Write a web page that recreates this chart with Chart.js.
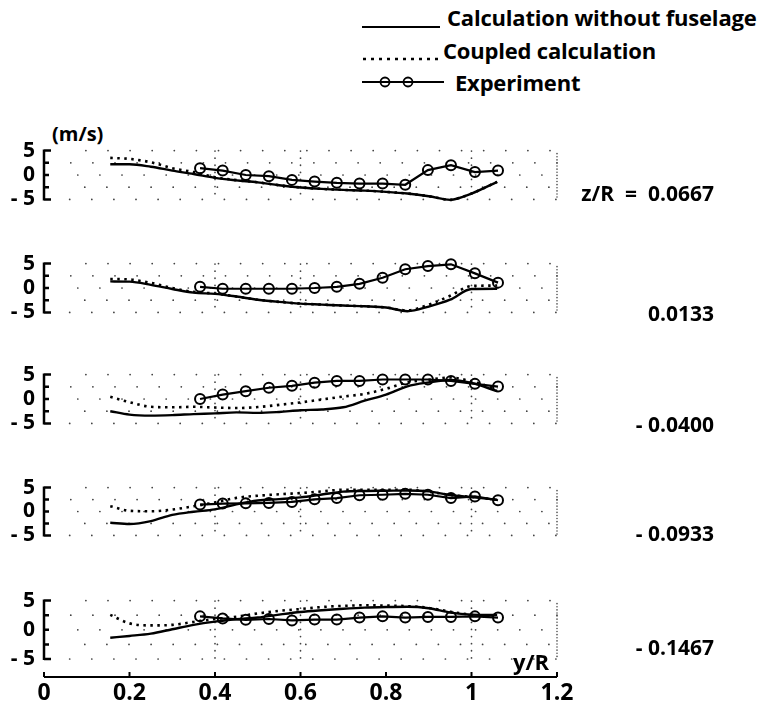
<!DOCTYPE html>
<html>
<head>
<meta charset="utf-8">
<script src="https://cdn.jsdelivr.net/npm/chart.js@4"></script>
<style>
  body { margin: 0; background: #fff; width: 766px; height: 707px; position: relative; overflow: hidden;
         font-family: 'Open Sans', sans-serif; font-weight: 700; color: #000; }
  .panel { position: absolute; left: 0; }
  .lbl { position: absolute; line-height: 26px; white-space: pre; }
  .leg { font-size: 22px; letter-spacing: -0.2px; }
  .z { font-size: 21px; text-align: right; }
  svg { position: absolute; overflow: visible; }
</style>
</head>
<body>
<!-- legend -->
<svg style="left:362px;top:21px" width="80" height="10"><line x1="0" y1="6" x2="78" y2="6" stroke="#000" stroke-width="2"/></svg>
<div class="lbl leg" style="left:447px;top:4px">Calculation without fuselage</div>
<svg style="left:362px;top:53px" width="80" height="10"><line x1="1" y1="6" x2="76" y2="6" stroke="#000" stroke-width="2.5" stroke-dasharray="3,5"/></svg>
<div class="lbl leg" style="left:443px;top:37px">Coupled calculation</div>
<svg style="left:362px;top:76px" width="84" height="12"><line x1="0" y1="6" x2="82" y2="6" stroke="#000" stroke-width="2"/><circle cx="23" cy="6" r="4.5" fill="none" stroke="#000" stroke-width="1.8"/><circle cx="46" cy="6" r="4.5" fill="none" stroke="#000" stroke-width="1.8"/></svg>
<div class="lbl leg" style="left:455px;top:69px">Experiment</div>

<div class="lbl" style="left:52px;top:121px;font-size:20px">(m/s)</div>
<div id="panels"></div>

<script>
// spanwise stations of the two calculations and of the measurements (y/R)
const calcX = [0.155, 0.2, 0.25, 0.3, 0.35, 0.4, 0.45, 0.5, 0.55, 0.6, 0.65, 0.7, 0.75, 0.8, 0.85, 0.9, 0.95, 1.0, 1.06];
const expX = [0.365, 0.418, 0.472, 0.526, 0.58, 0.633, 0.685, 0.738, 0.792, 0.845, 0.898, 0.952, 1.008, 1.062];

// one row per z/R station, top to bottom (m/s)
const zLabels = ['z/R  =  0.0667', '0.0133', '- 0.0400', '- 0.0933', '- 0.1467'];

const withoutFuselage = [
  [2.2, 2.2, 1.7, 0.9, 0.2, -0.6, -1.1, -1.5, -2.1, -2.55, -2.85, -3.05, -3.2, -3.45, -3.8, -4.35, -5.1, -3.8, -1.4],
  [1.35, 1.3, 0.65, -0.2, -0.95, -1.2, -1.75, -2.4, -2.85, -3.2, -3.4, -3.6, -3.75, -4.0, -4.75, -3.8, -2.4, -0.2, -0.15],
  [-2.5, -3.2, -3.4, -3.3, -3.1, -2.95, -2.75, -2.85, -2.65, -2.3, -2.15, -1.7, -0.35, 0.9, 2.6, 3.4, 3.9, 3.3, 1.6],
  [-2.35, -2.6, -2.0, -0.7, -0.05, 0.45, 1.5, 2.3, 2.6, 2.95, 3.55, 4.15, 4.3, 4.35, 4.4, 4.2, 3.45, 3.0, 2.45],
  [-1.35, -1.05, -0.65, 0.1, 0.85, 1.4, 1.8, 2.1, 2.6, 3.05, 3.35, 3.6, 3.8, 3.9, 3.95, 3.7, 2.95, 2.6, 2.55]
];

const coupled = [
  [3.5, 3.3, 2.6, 1.4, 0.6, -0.45, -1.05, -1.5, -2.1, -2.55, -2.85, -3.05, -3.2, -3.45, -3.8, -4.35, -5.1, -3.8, -1.4],
  [1.85, 1.75, 1.05, 0.0, -0.8, -1.15, -1.75, -2.4, -2.85, -3.2, -3.4, -3.6, -3.75, -4.0, -4.6, -3.4, -1.6, 0.4, 0.5],
  [0.45, -0.65, -1.6, -1.7, -1.6, -1.75, -1.85, -1.65, -1.2, -0.7, -0.1, 0.5, 1.05, 2.1, 3.4, 3.95, 4.4, 3.6, 2.05],
  [1.1, 0.15, 0.05, 0.4, 1.1, 1.9, 2.85, 3.3, 3.6, 3.85, 4.2, 4.55, 4.55, 4.55, 4.55, 4.15, 3.45, 3.05, 2.45],
  [2.55, 1.1, 0.75, 0.85, 1.35, 1.85, 2.25, 2.8, 3.25, 3.55, 3.9, 4.1, 4.2, 4.15, 4.05, 3.75, 3.1, 2.6, 2.3]
];

const experiment = [
  [1.4, 0.9, 0, -0.25, -1.0, -1.35, -1.6, -1.75, -1.75, -2.0, 1.0, 2.0, 0.6, 0.9],
  [0.25, -0.15, -0.15, -0.15, -0.15, 0, 0.25, 0.85, 2.1, 3.85, 4.5, 4.85, 3.0, 1.1],
  [0, 0.9, 1.6, 2.3, 2.7, 3.35, 3.7, 3.7, 4.0, 4.0, 4.0, 3.7, 3.1, 2.55],
  [1.45, 1.65, 1.7, 1.8, 2.0, 2.55, 2.8, 3.4, 3.5, 3.7, 3.5, 2.8, 3.15, 2.35],
  [2.3, 1.95, 1.7, 1.85, 1.6, 1.75, 1.75, 2.1, 2.3, 2.1, 2.2, 2.2, 2.3, 2.1]
];

const yTicks = [-5, -2.5, 0, 2.5, 5];

// page layout: plot area of each strip (px)
const plotTop = [141, 254, 365, 478, 591];
const plotBottom = [209, 322, 433, 545, 659];
const labelCenter = [193, 313, 424, 533, 647];
const PLOT_LEFT = 44;
const PLOT_RIGHT = 557;
const PAD = 12;

// dotted grid, bracket-style y axis and (on the last strip) the y/R axis line
const frame = {
  id: 'frame',
  beforeDatasetsDraw(chart, args, opts) {
    const { ctx, scales: { x, y } } = chart;
    const px = v => x.getPixelForValue(v);
    const py = v => y.getPixelForValue(v);
    ctx.save();
    ctx.lineCap = 'round';
    ctx.strokeStyle = '#444';
    ctx.lineWidth = 1.7;
    yTicks.forEach((v, k) => {
      ctx.setLineDash([0.1, 22]);
      ctx.lineDashOffset = k * 7;
      ctx.beginPath();
      ctx.moveTo(px(0.06), py(v));
      ctx.lineTo(px(1.2), py(v));
      ctx.stroke();
    });
    [0.4, 0.6, 1.0].forEach(v => {
      ctx.setLineDash([0.1, 7]);
      ctx.beginPath();
      ctx.moveTo(px(v), py(5));
      ctx.lineTo(px(v), py(-5));
      ctx.stroke();
    });
    ctx.setLineDash([0.1, 3]);
    ctx.lineWidth = 1.5;
    ctx.beginPath();
    ctx.moveTo(px(1.2), py(5));
    ctx.lineTo(px(1.2), py(-5));
    ctx.stroke();

    ctx.setLineDash([]);
    ctx.lineCap = 'butt';
    ctx.strokeStyle = '#000';
    ctx.lineWidth = 2.5;
    const x0 = px(0);
    ctx.beginPath();
    ctx.moveTo(x0, py(5) - 1);
    ctx.lineTo(x0, py(-5) + 1);
    yTicks.forEach(v => {
      ctx.moveTo(x0, py(v));
      ctx.lineTo(x0 + (Math.abs(v) === 5 ? 7 : 5), py(v));
    });
    ctx.stroke();

    if (opts.axis) {
      const ya = y.bottom + 18;
      ctx.lineWidth = 2;
      ctx.beginPath();
      ctx.moveTo(px(0), ya);
      ctx.lineTo(px(1.2), ya);
      for (let k = 0; k <= 6; k++) {
        ctx.moveTo(px(k * 0.2), ya);
        ctx.lineTo(px(k * 0.2), ya - 5);
      }
      ctx.stroke();
    }
    ctx.restore();
  }
};

Chart.defaults.font.family = "'Open Sans', sans-serif";
Chart.defaults.font.weight = 'bold';
Chart.defaults.color = '#000';

const host = document.getElementById('panels');

zLabels.forEach((z, i) => {
  const last = i === zLabels.length - 1;
  const h = plotBottom[i] - plotTop[i];
  const height = PAD + h + (last ? 48 : PAD);

  const box = document.createElement('div');
  box.className = 'panel';
  box.style.top = (plotTop[i] - PAD) + 'px';
  const canvas = document.createElement('canvas');
  canvas.width = 766;
  canvas.height = height;
  box.appendChild(canvas);
  host.appendChild(box);

  const lbl = document.createElement('div');
  lbl.className = 'lbl z';
  lbl.style.right = '52px';
  lbl.style.top = (labelCenter[i] - 13) + 'px';
  lbl.textContent = z;
  document.body.appendChild(lbl);

  new Chart(canvas, {
    type: 'line',
    data: {
      datasets: [
        {
          label: 'Calculation without fuselage',
          data: calcX.map((x, j) => ({ x, y: withoutFuselage[i][j] })),
          borderColor: '#000', borderWidth: 2.4, pointRadius: 0,
          cubicInterpolationMode: 'monotone', clip: false
        },
        {
          label: 'Coupled calculation',
          data: calcX.map((x, j) => ({ x, y: coupled[i][j] })),
          borderColor: '#000', borderWidth: 2.6, borderDash: [2.5, 4.5], pointRadius: 0,
          cubicInterpolationMode: 'monotone', clip: false
        },
        {
          label: 'Experiment',
          data: expX.map((x, j) => ({ x, y: experiment[i][j] })),
          borderColor: '#000', borderWidth: 2.2, tension: 0,
          pointRadius: 5, pointBorderWidth: 2,
          pointBackgroundColor: 'rgba(0,0,0,0)', pointBorderColor: '#000', clip: false
        }
      ]
    },
    options: {
      responsive: false,
      animation: false,
      layout: { padding: { top: PAD, bottom: last ? 0 : PAD, left: 0, right: 766 - PLOT_RIGHT } },
      plugins: { legend: { display: false }, tooltip: { enabled: false }, frame: { axis: last } },
      scales: {
        x: {
          type: 'linear', min: 0, max: 1.2,
          grid: { display: false, drawTicks: false },
          border: { display: false },
          ticks: {
            display: last, stepSize: 0.2, padding: 21, maxRotation: 0, autoSkip: false,
            font: { size: 23, weight: 'bold' },
            callback: v => String(+v.toFixed(1))
          },
          afterFit(s) { s.height = last ? 48 : 0; }
        },
        y: {
          min: -5, max: 5,
          grid: { display: false, drawTicks: false },
          border: { display: false },
          ticks: {
            stepSize: 5, padding: 9, font: { size: 21, weight: 'bold' },
            callback: v => (v < 0 ? '- ' + Math.abs(v) : String(v))
          },
          afterFit(s) { s.width = PLOT_LEFT; }
        }
      }
    },
    plugins: [frame]
  });
});

const yr = document.createElement('div');
yr.className = 'lbl';
yr.style.cssText = 'left:513px;top:648px;font-size:22px';
yr.textContent = 'y/R';
document.body.appendChild(yr);
</script>
</body>
</html>
